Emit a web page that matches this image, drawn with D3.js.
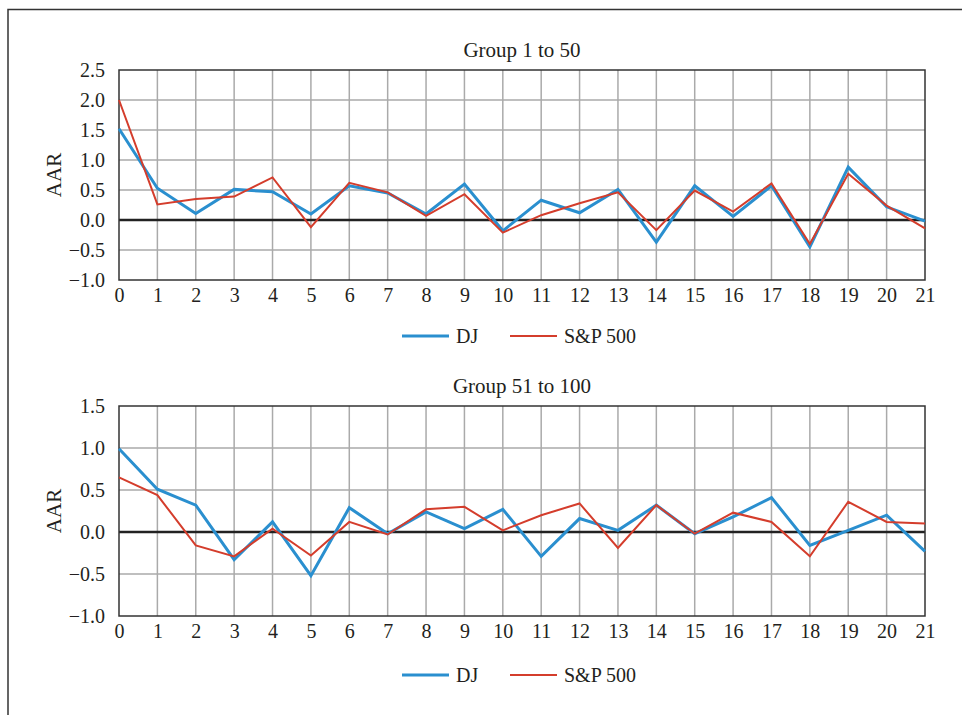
<!DOCTYPE html>
<html lang="en">
<head>
   <meta charset="UTF-8">
   <title>AAR DJ vs S&P 500</title>
   <script src="https://cdn.jsdelivr.net/npm/d3@7"></script>
   <style>
      body { margin: 0; background: #fff; }
      svg text { font-family: "Liberation Serif", "Times New Roman", Times, serif; fill: #231f20; }
   </style>
</head>
<body>
   <svg width="962" height="715"></svg>
   <script>
       // days after event
       const days = d3.range(0, 22);

       // Group 1 to 50
       const dj1 = [1.52, 0.53, 0.11, 0.51, 0.47, 0.10, 0.57, 0.45, 0.10, 0.60, -0.18,
                    0.33, 0.12, 0.51, -0.37, 0.57, 0.06, 0.57, -0.45, 0.88, 0.22, -0.02];
       const sp1 = [2.00, 0.26, 0.35, 0.39, 0.71, -0.12, 0.62, 0.46, 0.07, 0.43, -0.21,
                    0.08, 0.28, 0.46, -0.17, 0.49, 0.14, 0.61, -0.40, 0.77, 0.24, -0.14];
       const yTicks1 = [-1.0, -0.5, 0.0, 0.5, 1.0, 1.5, 2.0, 2.5];

       // Group 51 to 100
       const dj2 = [0.99, 0.51, 0.32, -0.33, 0.12, -0.52, 0.29, -0.02, 0.24, 0.04, 0.27,
                    -0.29, 0.16, 0.02, 0.32, -0.02, 0.18, 0.41, -0.16, 0.02, 0.20, -0.23];
       const sp2 = [0.65, 0.44, -0.16, -0.29, 0.04, -0.28, 0.12, -0.03, 0.27, 0.30, 0.02,
                    0.20, 0.34, -0.19, 0.32, -0.02, 0.23, 0.12, -0.29, 0.36, 0.12, 0.10];
       const yTicks2 = [-1.0, -0.5, 0.0, 0.5, 1.0, 1.5];

       const svg = d3.select('svg');
       const blue = '#2a8fcf', red = '#d43d2c';
       const serif = '"Liberation Serif", "Times New Roman", Times, serif';

       // outer frame
       svg.append('path')
           .attr('d', 'M8,715 V9.5 H962')
           .attr('fill', 'none').attr('stroke', '#333').attr('stroke-width', 1.5);

       const fmt = v => (v < 0 ? '\u2212' : '') + Math.abs(v).toFixed(1);

       function drawPanel(title, dj, sp, yTicks, top, bottom, legendY) {
           const x = d3.scaleLinear().domain([0, 21]).range([119, 925]);
           const y = d3.scaleLinear().domain([yTicks[0], yTicks[yTicks.length - 1]]).range([bottom, top]);
           const g = svg.append('g').attr('font-family', serif);

           // grid
           g.append('g').selectAll('line').data(days.slice(1, -1)).join('line')
               .attr('x1', d => x(d)).attr('x2', d => x(d))
               .attr('y1', top).attr('y2', bottom)
               .attr('stroke', '#aaa').attr('stroke-width', 1.5);
           g.append('g').selectAll('line').data(yTicks.slice(1, -1)).join('line')
               .attr('x1', x(0)).attr('x2', x(21))
               .attr('y1', d => y(d)).attr('y2', d => y(d))
               .attr('stroke', '#aaa').attr('stroke-width', 1.5);

           // zero line
           g.append('line')
               .attr('x1', x(0)).attr('x2', x(21))
               .attr('y1', y(0)).attr('y2', y(0))
               .attr('stroke', '#222').attr('stroke-width', 2.5);

           // box
           g.append('rect')
               .attr('x', x(0)).attr('y', top)
               .attr('width', x(21) - x(0)).attr('height', bottom - top)
               .attr('fill', 'none').attr('stroke', '#333').attr('stroke-width', 1.5);

           // axes
           const yAxis = d3.axisLeft(y).tickValues(yTicks).tickFormat(fmt).tickSize(0).tickPadding(14);
           g.append('g').attr('transform', `translate(${x(0)},0)`).call(yAxis)
               .attr('font-family', serif).attr('font-size', 20)
               .call(a => a.select('.domain').remove());
           const xAxis = d3.axisBottom(x).tickValues(days).tickFormat(d3.format('d')).tickSize(0).tickPadding(8);
           g.append('g').attr('transform', `translate(0,${bottom})`).call(xAxis)
               .attr('font-family', serif).attr('font-size', 20)
               .call(a => a.select('.domain').remove());

           // title and y label
           g.append('text').attr('x', (x(0) + x(21)) / 2).attr('y', top - 13)
               .attr('text-anchor', 'middle').attr('font-size', 21).text(title);
           g.append('text')
               .attr('transform', `translate(61,${(top + bottom) / 2}) rotate(-90)`)
               .attr('text-anchor', 'middle').attr('font-size', 21).text('AAR');

           // series
           const line = d3.line().x((d, i) => x(days[i])).y(d => y(d));
           g.append('path').datum(dj).attr('d', line)
               .attr('fill', 'none').attr('stroke', blue).attr('stroke-width', 3)
               .attr('stroke-linejoin', 'miter');
           g.append('path').datum(sp).attr('d', line)
               .attr('fill', 'none').attr('stroke', red).attr('stroke-width', 2)
               .attr('stroke-linejoin', 'miter');

           // legend
           const legend = [
               { name: 'DJ', color: blue, w: 3, x0: 402 },
               { name: 'S&P 500', color: red, w: 2, x0: 510 }
           ];
           const lg = g.append('g').selectAll('g').data(legend).join('g');
           lg.append('line')
               .attr('x1', d => d.x0).attr('x2', d => d.x0 + 47)
               .attr('y1', legendY).attr('y2', legendY)
               .attr('stroke', d => d.color).attr('stroke-width', d => d.w);
           lg.append('text')
               .attr('x', d => d.x0 + 54).attr('y', legendY + 7)
               .attr('font-size', 20).text(d => d.name);
       }

       drawPanel('Group 1 to 50', dj1, sp1, yTicks1, 70, 280, 336);
       drawPanel('Group 51 to 100', dj2, sp2, yTicks2, 406, 616, 675);
   </script>
</body>
</html>
